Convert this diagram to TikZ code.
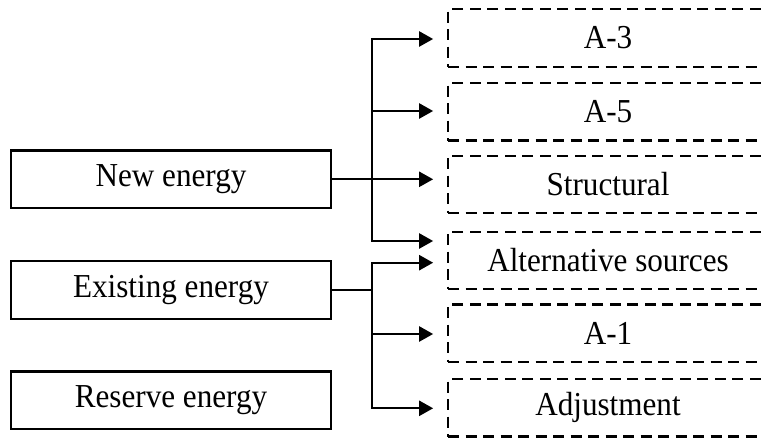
\documentclass[tikz,border=0pt]{standalone}
\usepackage{fontspec}
\setmainfont[FakeStretch=0.93]{Liberation Serif}
\usetikzlibrary{arrows.meta}
\begin{document}
\begin{tikzpicture}[x=1pt,y=-1pt,
  every node/.style={font=\fontsize{33.5}{40}\selectfont, inner sep=0pt},
  srcbox/.style={draw, line width=2.3pt, rectangle, minimum width=320pt, minimum height=57.5pt},
  tgtbox/.style={draw, line width=2.3pt, dash pattern=on 11pt off 6.5pt, rectangle, minimum width=320pt, minimum height=57.5pt},
  conn/.style={line width=2.3pt},
  arr/.style={line width=2.3pt, -{Triangle[length=14pt,width=15pt]}, shorten >=13.7pt}]
\clip (0,0) rectangle (761,438);
\fill[white] (0,0) rectangle (761,438);
% left boxes
\node[srcbox] (new) at (171,179.3) {New energy};
\node[srcbox] (exist) at (171,290) {Existing energy};
\node[srcbox] (res) at (171,400.3) {Reserve energy};
% right dashed boxes
\node[tgtbox] (a3) at (608,38) {A-3};
\node[tgtbox] (a5) at (608,111.8) {A-5};
\node[tgtbox] (str) at (608,184.5) {Structural};
\node[tgtbox] (alt) at (608,260.5) {Alternative sources};
\node[tgtbox] (a1) at (608,333.3) {A-1};
\node[tgtbox] (adj) at (608,407.9) {Adjustment};
% new energy branches
\coordinate (n1) at (372,39);
\coordinate (n2) at (372,111);
\coordinate (n4) at (372,241);
\draw[arr] (n4) -- (n1) -- (n1 -| a3.west);
\draw[arr] (n1) -- (n4) -- (n4 -| alt.west);
\draw[arr] (n2) -- (n2 -| a5.west);
\draw[arr] (new.east) -- (new.east -| str.west);
% existing energy branches
\coordinate (e1) at (372,262.7);
\coordinate (e2) at (372,334);
\coordinate (e3) at (372,408.3);
\draw[conn] (exist.east) -- (exist.east -| e1);
\draw[arr] (e3) -- (e1) -- (e1 -| alt.west);
\draw[arr] (e1) -- (e3) -- (e3 -| adj.west);
\draw[arr] (e2) -- (e2 -| a1.west);
\end{tikzpicture}
\end{document}
